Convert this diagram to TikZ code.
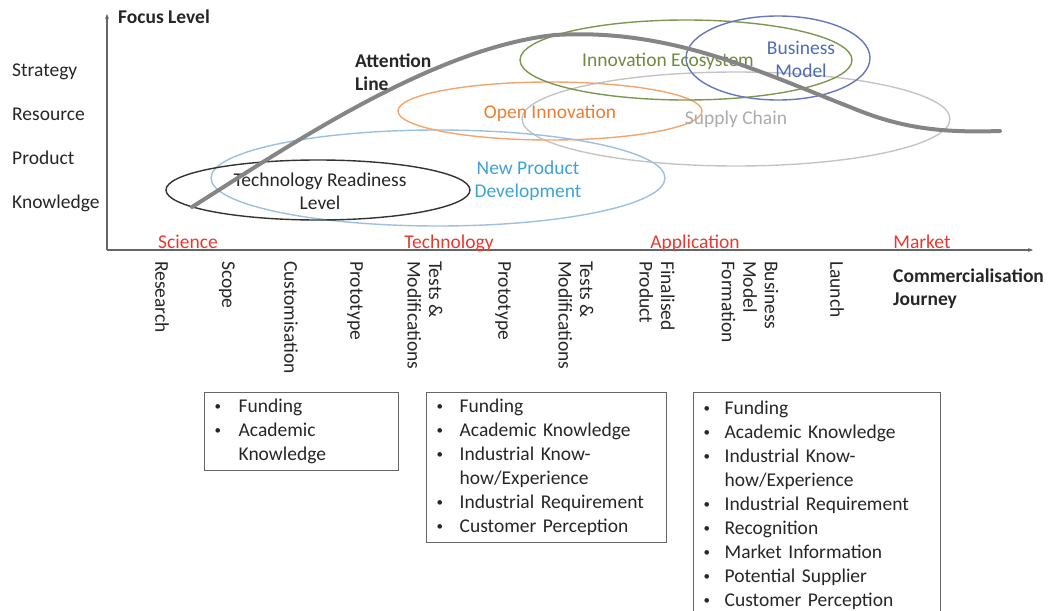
\documentclass[tikz,border=0pt]{standalone}
\usepackage{fontspec}
\setmainfont{Carlito}
\usetikzlibrary{arrows.meta}
\definecolor{redlab}{HTML}{E8382E}
\definecolor{npdline}{HTML}{9DBFE0}
\definecolor{npdtext}{HTML}{3DA3D6}
\definecolor{oiline}{HTML}{F2A66E}
\definecolor{oitext}{HTML}{ED7D31}
\definecolor{scline}{HTML}{C4C4C4}
\definecolor{sctext}{HTML}{ABABAB}
\definecolor{ieline}{HTML}{7E9650}
\definecolor{ietext}{HTML}{6E8A3C}
\definecolor{bmline}{HTML}{6677BB}
\definecolor{bmtext}{HTML}{4F6BB5}
\definecolor{trlline}{HTML}{333333}
\definecolor{axisc}{HTML}{666666}
\definecolor{attn}{HTML}{858585}
\newcommand{\bul}{\raisebox{1.5pt}{\fontsize{13}{13}\selectfont\textbullet}}
\begin{document}
\begin{tikzpicture}[x=1pt,y=-1pt,
  every node/.style={font=\fontsize{19.5}{23}\selectfont, inner sep=0pt},
  lvl/.style={anchor=base west, text=black!85},
  phase/.style={anchor=base, text=redlab},
  stage/.style={rotate=-90, anchor=west, align=left, text=black!85, font=\fontsize{19.5}{21.5}\selectfont},
  boldlab/.style={font=\fontsize{19.5}{23}\selectfont\bfseries, text=black!85, align=left},
  ell/.style={line width=1.4pt},
  listbox/.style={draw=axisc, line width=1.3pt, anchor=north west, align=left, inner xsep=10pt, inner ysep=3pt, text=black!85, font=\fontsize{19.5}{24}\selectfont},
  axis/.style={draw=axisc, line width=1.2pt, -{Stealth[length=5pt,width=4pt]}}
]
\useasboundingbox (0,0) rectangle (1048,610);

% axes
\coordinate (O) at (107,250);
\coordinate (ytop) at (107,14);
\coordinate (xend) at (1033,250);
\draw[axis] (O) -- (ytop);
\draw[axis] (O) -- (xend);
\node[boldlab, anchor=west] (focus) at (118,17) {Focus Level};
\node[boldlab, anchor=north west] (cj) at (893,269) {Commercialisation\\Journey};

% levels
\node[lvl] (strat) at (12,76) {Strategy};
\node[lvl] (res) at (12,120) {Resource};
\node[lvl] (prod) at (12,164) {Product};
\node[lvl] (know) at (12,208) {Knowledge};

% ellipses
\draw[ell, draw=scline] (736,119) ellipse (214 and 47);
\draw[ell, draw=npdline] (438,178) ellipse (227 and 48);
\draw[ell, draw=oiline] (550,111) ellipse (152 and 29);
\draw[ell, draw=ieline] (686,60) ellipse (166 and 40);
\draw[ell, draw=bmline] (778,58) ellipse (92 and 42);
\draw[ell, draw=trlline] (318,190) ellipse (152 and 30);

\node[text=sctext] (sc) at (736,119) {Supply Chain};
\node[text=npdtext, align=center] (npd) at (528,181) {New Product\\Development};
\node[text=oitext] (oi) at (550,113) {Open Innovation};
\node[text=ietext] (ie) at (668,61) {Innovation Ecosystem};
\node[text=bmtext, align=center] (bm) at (801,59) {Business\\Model};
\node[text=black!85, align=center] (trl) at (320,191) {Technology Readiness\\Level};

% attention line
\coordinate (a0) at (192,207);
\coordinate (a1) at (555,35);
\coordinate (a2) at (850,107);
\coordinate (a3) at (1000,131);
\draw[attn, line width=4pt, line cap=round] (a0) .. controls (280,152) and (430,48) .. (a1)
  .. controls (670,28) and (760,72) .. (a2) .. controls (900,128) and (940,133) .. (a3);
\node[boldlab, anchor=west] (al) at (355,72) {Attention\\Line};

% phases
\node[phase] (sci) at (188,248) {Science};
\node[phase] (tech) at (449,248) {Technology};
\node[phase] (app) at (695,248) {Application};
\node[phase] (mkt) at (922,248) {Market};

% stages
\node[stage] (s1) at (162,261) {Research};
\node[stage] (s2) at (227,261) {Scope};
\node[stage] (s3) at (291,261) {Customisation};
\node[stage] (s4) at (355,261) {Prototype};
\node[stage] (s5) at (425,261) {Tests \&\\Modifications};
\node[stage] (s6) at (503,261) {Prototype};
\node[stage] (s7) at (576,261) {Tests \&\\Modifications};
\node[stage] (s8) at (657,261) {Finalised\\Product};
\node[stage] (s9) at (750,261) {Business\\Model\\Formation};
\node[stage] (s10) at (837,261) {Launch};

% boxes
\node[listbox, text width=174pt] (b1) at (204,392) {%
\begin{tabular}{@{}p{14pt}@{\hspace{10pt}}l@{}}
\bul & Funding\\
\bul & Academic\\
 & Knowledge
\end{tabular}};
\node[listbox, text width=220pt] (b2) at (426,392) {%
\begin{tabular}{@{}p{13pt}@{\hspace{10pt}}l@{}}
\bul & Funding\\
\bul & Academic Knowledge\\
\bul & Industrial Know-\\
 & how/Experience\\
\bul & Industrial Requirement\\
\bul & Customer Perception
\end{tabular}};
\node[listbox, text width=227pt, inner ysep=5pt] (b3) at (693,392) {%
\begin{tabular}{@{}p{11pt}@{\hspace{10pt}}l@{}}
\bul & Funding\\
\bul & Academic Knowledge\\
\bul & Industrial Know-\\
 & how/Experience\\
\bul & Industrial Requirement\\
\bul & Recognition\\
\bul & Market Information\\
\bul & Potential Supplier\\
\bul & Customer Perception
\end{tabular}};
\end{tikzpicture}
\end{document}
